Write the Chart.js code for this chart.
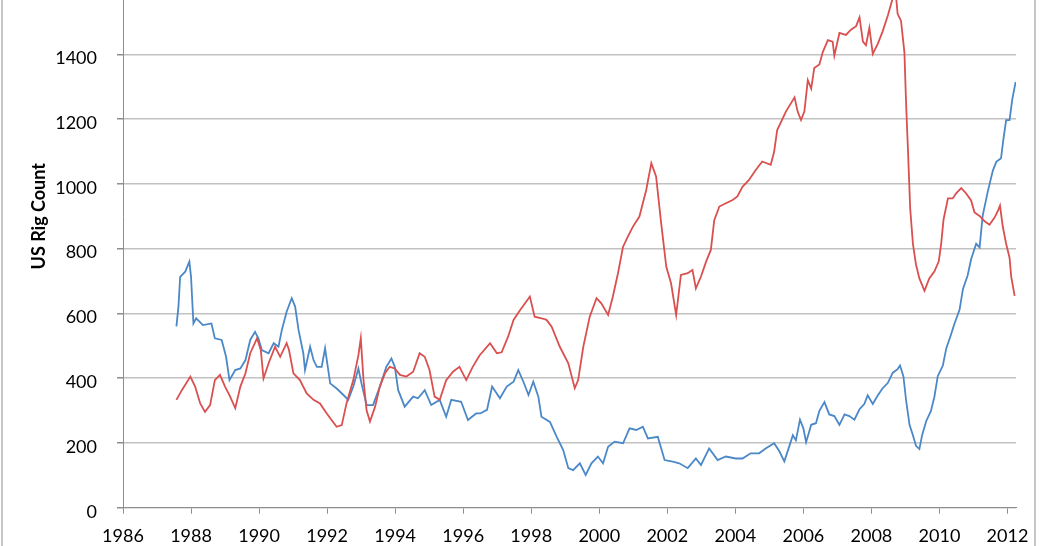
<!DOCTYPE html>
<html>
<head>
<meta charset="utf-8">
<script src="https://cdn.jsdelivr.net/npm/chart.js@4.4.1/dist/chart.umd.min.js"></script>
<style>
  html, body { margin: 0; padding: 0; background: #fff; overflow: hidden; }
  body { width: 1041px; height: 546px; position: relative; }
  #wrap { position: absolute; left: 0; top: -106px; width: 1041px; height: 652px; }
  .edge { position: absolute; top: 0; width: 2px; height: 546px; background: #c6c6c6; }
</style>
</head>
<body>
<div class="edge" style="left:1px"></div>
<div class="edge" style="left:1034px"></div>
<div id="wrap"><canvas id="c" width="1041" height="652"></canvas></div>
<script>
// ---- Data ----
const yearTicks = [1986,1988,1990,1992,1994,1996,1998,2000,2002,2004,2006,2008,2010,2012];
const countTicks = [0,200,400,600,800,1000,1200,1400,1600,1800];
const yAxisTitle = 'US Rig Count';

// Gas rigs (red)
const gasYears = [1987.57,1987.73,1987.98,1988.12,1988.27,1988.41,1988.56,1988.70,1988.85,1989.00,1989.15,1989.30,1989.45,1989.60,1989.74,1989.94,1990.05,1990.13,1990.28,1990.47,1990.62,1990.81,1990.88,1991.01,1991.20,1991.40,1991.60,1991.79,1991.99,1992.13,1992.28,1992.43,1992.57,1992.77,1992.92,1992.99,1993.07,1993.16,1993.26,1993.41,1993.55,1993.70,1993.84,1993.99,1994.14,1994.33,1994.53,1994.72,1994.87,1995.01,1995.16,1995.31,1995.50,1995.70,1995.89,1996.09,1996.28,1996.48,1996.79,1996.99,1997.13,1997.32,1997.48,1997.67,1997.96,1998.10,1998.30,1998.45,1998.60,1998.84,1999.09,1999.28,1999.38,1999.53,1999.72,1999.92,2000.06,2000.26,2000.40,2000.55,2000.70,2000.84,2000.99,2001.18,2001.38,2001.53,2001.67,2001.82,2001.97,2002.11,2002.26,2002.40,2002.60,2002.74,2002.84,2002.99,2003.14,2003.28,2003.38,2003.53,2003.72,2003.92,2004.06,2004.21,2004.40,2004.60,2004.79,2005.04,2005.14,2005.23,2005.49,2005.74,2005.83,2005.93,2006.03,2006.13,2006.23,2006.32,2006.47,2006.57,2006.72,2006.86,2006.91,2007.06,2007.25,2007.40,2007.55,2007.65,2007.75,2007.84,2007.94,2008.04,2008.19,2008.33,2008.48,2008.63,2008.70,2008.77,2008.87,2008.97,2009.02,2009.07,2009.14,2009.22,2009.31,2009.41,2009.56,2009.70,2009.85,2009.98,2010.05,2010.12,2010.25,2010.39,2010.49,2010.64,2010.78,2010.93,2011.03,2011.18,2011.32,2011.47,2011.62,2011.72,2011.78,2011.86,2011.96,2012.06,2012.11,2012.21];
const gasRigs = [333,363,405,374,322,296,317,394,410,374,343,307,374,415,477,523,487,399,446,497,466,508,487,415,394,353,333,322,291,271,250,255,322,394,471,523,394,301,266,312,374,415,435,430,410,405,420,477,466,425,343,333,394,420,435,394,435,470,508,477,480,528,580,610,652,590,585,580,559,497,446,369,394,497,590,647,631,595,652,724,806,837,868,899,981,1064,1023,878,744,693,595,719,724,734,677,714,760,796,888,930,940,950,961,991,1012,1043,1069,1059,1099,1166,1224,1267,1224,1197,1224,1320,1294,1358,1369,1407,1444,1439,1396,1466,1460,1476,1487,1514,1439,1428,1482,1401,1433,1471,1519,1575,1606,1525,1503,1406,1245,1116,923,815,751,708,670,708,729,761,815,890,955,955,971,987,971,949,912,901,885,874,896,917,933,869,815,772,713,654];

// Oil rigs (blue)
const oilYears = [1987.57,1987.63,1987.68,1987.83,1987.95,1988.00,1988.07,1988.15,1988.35,1988.60,1988.70,1988.90,1989.03,1989.13,1989.30,1989.45,1989.60,1989.74,1989.88,1989.98,1990.08,1990.28,1990.43,1990.57,1990.67,1990.81,1990.96,1991.06,1991.16,1991.30,1991.35,1991.50,1991.60,1991.70,1991.84,1991.94,1992.09,1992.28,1992.48,1992.62,1992.77,1992.92,1993.01,1993.16,1993.35,1993.55,1993.74,1993.89,1993.99,1994.09,1994.28,1994.53,1994.67,1994.87,1995.06,1995.31,1995.50,1995.65,1995.94,1996.14,1996.38,1996.50,1996.70,1996.85,1997.08,1997.28,1997.48,1997.62,1997.77,1997.92,1998.06,1998.21,1998.30,1998.55,1998.75,1998.94,1999.09,1999.23,1999.43,1999.60,1999.77,1999.96,2000.11,2000.26,2000.45,2000.70,2000.89,2001.09,2001.28,2001.43,2001.72,2001.92,2002.16,2002.35,2002.60,2002.84,2002.99,2003.23,2003.48,2003.72,2004.01,2004.21,2004.45,2004.70,2004.89,2005.14,2005.29,2005.44,2005.59,2005.69,2005.78,2005.90,2006.00,2006.08,2006.23,2006.37,2006.47,2006.62,2006.76,2006.91,2007.06,2007.21,2007.35,2007.50,2007.65,2007.79,2007.89,2008.04,2008.19,2008.33,2008.48,2008.63,2008.77,2008.84,2008.94,2009.02,2009.12,2009.22,2009.31,2009.41,2009.49,2009.61,2009.75,2009.85,2009.95,2010.10,2010.20,2010.34,2010.44,2010.59,2010.69,2010.83,2010.93,2011.08,2011.18,2011.27,2011.42,2011.57,2011.67,2011.81,2011.88,2011.96,2012.06,2012.14,2012.24];
const oilRigs = [560,621,713,729,760,713,569,585,564,569,523,518,466,394,425,430,456,518,543,523,487,477,508,497,549,605,647,621,549,477,425,497,456,435,435,492,384,368,348,333,374,430,384,317,317,374,435,461,435,363,312,343,338,363,317,333,281,333,327,271,291,291,302,374,338,374,389,425,389,348,389,343,281,265,219,178,122,116,137,101,137,158,137,188,204,199,245,240,250,214,219,147,142,137,122,152,132,183,147,158,152,152,168,168,183,199,175,143,191,224,208,272,245,202,256,261,299,326,288,283,256,288,283,272,304,320,347,320,347,369,385,417,428,439,406,331,256,224,191,181,224,267,299,342,406,439,492,535,568,611,675,718,767,815,804,901,976,1041,1068,1079,1138,1197,1197,1261,1315];

// ---- Styles ----
const RED = '#d9504f';
const BLUE = '#4a88c8';
const GRID = '#c2c2c2';
const AXIS = '#8e8e8e';
const FONT = 'Lato, "Open Sans", sans-serif';

const toPoints = (xs, ys) => xs.map((x, i) => ({ x: x, y: ys[i] }));

new Chart(document.getElementById('c'), {
  type: 'line',
  data: {
    datasets: [
      { label: 'Gas', data: toPoints(gasYears, gasRigs), borderColor: RED, backgroundColor: RED,
        borderWidth: 1.8, pointRadius: 0, tension: 0, fill: false },
      { label: 'Oil', data: toPoints(oilYears, oilRigs), borderColor: BLUE, backgroundColor: BLUE,
        borderWidth: 1.8, pointRadius: 0, tension: 0, fill: false }
    ]
  },
  options: {
    responsive: false,
    animation: false,
    devicePixelRatio: 1,
    layout: { padding: { top: 0, right: 25, bottom: 0, left: 0 } },
    plugins: { legend: { display: false }, tooltip: { enabled: false } },
    scales: {
      x: {
        type: 'linear',
        min: 1986,
        max: 2012.25,
        afterBuildTicks: s => { s.ticks = yearTicks.map(v => ({ value: v })); },
        afterFit: s => { s.height = 38.3; },
        grid: { drawOnChartArea: false, drawTicks: true, tickLength: 6, tickColor: AXIS, color: AXIS },
        border: { display: true, color: AXIS, width: 1 },
        ticks: { font: { family: FONT, size: 18 }, color: '#000', padding: 12, maxRotation: 0,
                 autoSkip: false, callback: v => String(v) }
      },
      y: {
        min: 0,
        max: 1800,
        afterBuildTicks: s => { s.ticks = countTicks.map(v => ({ value: v })); },
        afterFit: s => { s.width = 123; },
        grid: { color: GRID, lineWidth: 1.5, drawTicks: true, tickLength: 6, tickColor: AXIS },
        border: { display: true, color: AXIS, width: 1 },
        ticks: { font: { family: FONT, size: 18 }, color: '#000', padding: 20, labelOffset: 4,
                 callback: v => String(v) },
        title: { display: true, text: yAxisTitle, color: '#000',
                 font: { family: FONT, size: 18, weight: 'bold' }, padding: { top: 28, bottom: 0 } }
      }
    }
  }
});
</script>
</body>
</html>
